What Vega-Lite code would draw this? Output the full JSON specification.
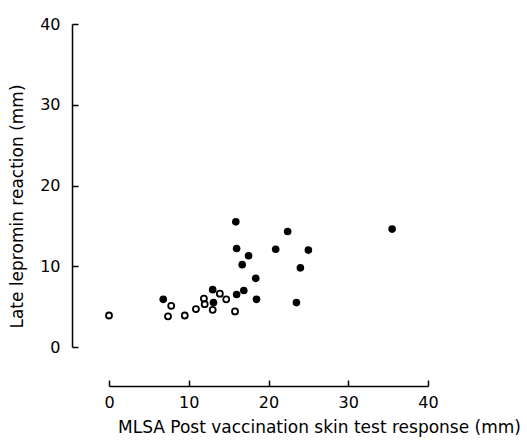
{
  "$schema": "https://vega.github.io/schema/vega-lite/v6.json",
  "autosize": "none",
  "width": 319,
  "height": 323,
  "padding": {"left": 109, "top": 24, "right": 99, "bottom": 94},
  "background": "white",
  "config": {
    "view": {"stroke": null},
    "axis": {"labelFont": "DejaVu Sans", "titleFont": "DejaVu Sans", "labelColor": "black", "titleColor": "black", "domainColor": "black", "tickColor": "black", "grid": false, "domainWidth": 1.5, "tickWidth": 1.5, "titleFontWeight": "normal", "labelFontSize": 16, "titleFontSize": 17, "labelFlush": false}
  },
  "data": {
    "values": [
      {"x": 0, "y": 3.9, "group": "open"},
      {"x": 7.8, "y": 5.1, "group": "open"},
      {"x": 7.4, "y": 3.8, "group": "open"},
      {"x": 9.5, "y": 3.9, "group": "open"},
      {"x": 10.9, "y": 4.7, "group": "open"},
      {"x": 11.9, "y": 6.0, "group": "open"},
      {"x": 12.0, "y": 5.3, "group": "open"},
      {"x": 13.0, "y": 4.6, "group": "open"},
      {"x": 13.9, "y": 6.6, "group": "open"},
      {"x": 14.7, "y": 5.9, "group": "open"},
      {"x": 15.8, "y": 4.4, "group": "open"},
      {"x": 6.8, "y": 5.9, "group": "filled"},
      {"x": 13.0, "y": 7.1, "group": "filled"},
      {"x": 13.1, "y": 5.5, "group": "filled"},
      {"x": 15.9, "y": 15.5, "group": "filled"},
      {"x": 16.0, "y": 12.2, "group": "filled"},
      {"x": 17.5, "y": 11.3, "group": "filled"},
      {"x": 16.7, "y": 10.2, "group": "filled"},
      {"x": 18.4, "y": 8.5, "group": "filled"},
      {"x": 16.9, "y": 7.0, "group": "filled"},
      {"x": 16.0, "y": 6.5, "group": "filled"},
      {"x": 18.5, "y": 5.9, "group": "filled"},
      {"x": 22.4, "y": 14.3, "group": "filled"},
      {"x": 20.9, "y": 12.1, "group": "filled"},
      {"x": 25.0, "y": 12.0, "group": "filled"},
      {"x": 24.0, "y": 9.8, "group": "filled"},
      {"x": 23.5, "y": 5.5, "group": "filled"},
      {"x": 35.5, "y": 14.6, "group": "filled"}
    ]
  },
  "layer": [
    {
      "transform": [{"filter": "datum.group === 'filled'"}],
      "mark": {"type": "point", "shape": "circle", "filled": true, "color": "black", "size": 58, "opacity": 1},
      "encoding": {
        "x": {"field": "x", "type": "quantitative", "scale": {"domain": [0, 40], "nice": false, "zero": false},
          "axis": {"values": [0, 10, 20, 30, 40], "offset": 39, "tickSize": -6, "labelPadding": 14, "title": "MLSA Post vaccination skin test response (mm)", "titleX": 210, "titleY": 41, "titleAnchor": "middle", "titleBaseline": "middle"}},
        "y": {"field": "y", "type": "quantitative", "scale": {"domain": [0, 40], "nice": false, "zero": false},
          "axis": {"values": [0, 10, 20, 30, 40], "offset": 37, "tickSize": -6, "labelPadding": 18, "title": "Late lepromin reaction (mm)", "titleX": -55, "titleY": 182, "titleAngle": -90, "titleAnchor": "middle", "titleBaseline": "middle"}}
      }
    },
    {
      "transform": [{"filter": "datum.group === 'open'"}],
      "mark": {"type": "point", "shape": "circle", "filled": false, "color": "black", "size": 36, "strokeWidth": 1.8, "opacity": 1},
      "encoding": {
        "x": {"field": "x", "type": "quantitative"},
        "y": {"field": "y", "type": "quantitative"}
      }
    }
  ]
}
